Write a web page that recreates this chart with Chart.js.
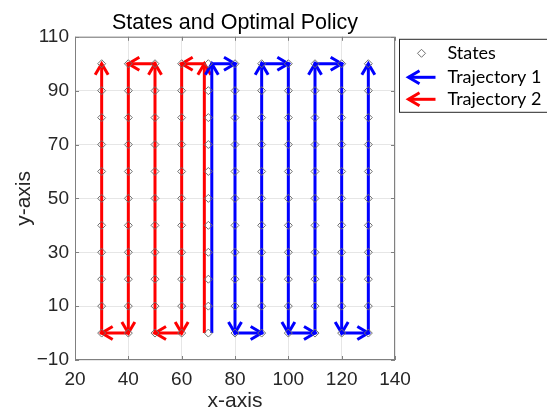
<!DOCTYPE html>
<html>
<head>
<meta charset="utf-8">
<title>States and Optimal Policy</title>
<script src="https://cdn.jsdelivr.net/npm/chart.js@4.4.1/dist/chart.umd.min.js"></script>
<style>
html, body { margin: 0; padding: 0; background: #fff; }
#wrap { width: 547px; height: 412px; }
</style>
</head>
<body>
<div id="wrap"><canvas id="policy" width="547" height="412"></canvas></div>
<script>
// state grid
var stateX = [30, 40, 50, 60, 70, 80, 90, 100, 110, 120, 130];
var stateY = [0, 10, 20, 30, 40, 50, 60, 70, 80, 90, 100];

// trajectory 1 (blue) - path vertices, arrow head at every vertex after the first
var traj1X = [71.3, 71.3, 80, 80, 90, 90, 100, 100, 110, 110, 120, 120, 130, 130];
var traj1Y = [0, 100, 100, 0, 0, 100, 100, 0, 0, 100, 100, 0, 0, 100];

// trajectory 2 (red)
var traj2X = [68.5, 68.5, 60, 60, 50, 50, 40, 40, 30, 30];
var traj2Y = [0, 100, 100, 0, 0, 100, 100, 0, 0, 100];

var xTicks = [20, 40, 60, 80, 100, 120, 140];
var yTicks = [-10, 10, 30, 50, 70, 90, 110];

var seriesNames = ['States', 'Trajectory 1', 'Trajectory 2'];
var seriesColors = ['#707070', '#0000ff', '#ff0000'];

var axisFont = "'Liberation Sans', Arial, sans-serif";

function toPoints(xs, ys) {
    var out = [];
    for (var i = 0; i < xs.length; i++) out.push({x: xs[i], y: ys[i]});
    return out;
}

var states = [];
stateX.forEach(function(x) {
    stateY.forEach(function(y) { states.push({x: x, y: y}); });
});

function drawHead(ctx, x, y, ang) {
    var len = 11, half = 6.5;
    var cx = x - Math.cos(ang) * len, cy = y - Math.sin(ang) * len;
    var px = -Math.sin(ang) * half, py = Math.cos(ang) * half;
    ctx.beginPath();
    ctx.moveTo(cx + px, cy + py);
    ctx.lineTo(x, y);
    ctx.lineTo(cx - px, cy - py);
    ctx.stroke();
}

// arrow heads on the trajectory lines
var arrowPlugin = {
    id: 'arrows',
    afterDatasetDraw: function(chart, args) {
        var ds = chart.data.datasets[args.index];
        if (!ds.arrowHeads) return;
        var pts = args.meta.data;
        var ctx = chart.ctx;
        ctx.save();
        ctx.strokeStyle = ds.borderColor;
        ctx.lineWidth = ds.borderWidth;
        ctx.lineCap = 'butt';
        ctx.lineJoin = 'miter';
        for (var i = 1; i < pts.length; i++) {
            var a = Math.atan2(pts[i].y - pts[i - 1].y, pts[i].x - pts[i - 1].x);
            drawHead(ctx, pts[i].x, pts[i].y, a);
        }
        ctx.restore();
    }
};

// box around the axes + inward ticks (matlab look)
var framePlugin = {
    id: 'frame',
    beforeDatasetsDraw: function(chart) {
        var ctx = chart.ctx, a = chart.chartArea;
        var sx = chart.scales.x, sy = chart.scales.y;
        ctx.save();
        ctx.strokeStyle = '#808080';
        ctx.lineWidth = 1;
        ctx.strokeRect(a.left + 0.5, a.top + 0.5, a.right - a.left - 1, a.bottom - a.top - 1);
        ctx.beginPath();
        xTicks.forEach(function(v) {
            var px = Math.round(sx.getPixelForValue(v)) + 0.5;
            ctx.moveTo(px, a.bottom); ctx.lineTo(px, a.bottom - 4);
            ctx.moveTo(px, a.top); ctx.lineTo(px, a.top + 4);
        });
        yTicks.forEach(function(v) {
            var py = Math.round(sy.getPixelForValue(v)) + 0.5;
            ctx.moveTo(a.left, py); ctx.lineTo(a.left + 4, py);
            ctx.moveTo(a.right, py); ctx.lineTo(a.right - 4, py);
        });
        ctx.stroke();
        ctx.restore();
    }
};

var legendPlugin = {
    id: 'boxLegend',
    afterDraw: function(chart) {
        var ctx = chart.ctx, a = chart.chartArea;
        var bx = a.right + 4.5, by = a.top + 2.5;
        var rows = [14, 38, 60];
        ctx.save();
        ctx.fillStyle = '#fff';
        ctx.fillRect(bx, by, 160, 73);
        ctx.strokeStyle = '#262626';
        ctx.lineWidth = 1;
        ctx.strokeRect(bx, by, 160, 73);

        // states marker
        var mx = bx + 22, my = by + rows[0];
        ctx.strokeStyle = seriesColors[0];
        ctx.beginPath();
        ctx.moveTo(mx, my - 4); ctx.lineTo(mx + 4, my); ctx.lineTo(mx, my + 4); ctx.lineTo(mx - 4, my);
        ctx.closePath();
        ctx.stroke();

        // trajectory arrows
        for (var i = 1; i < 3; i++) {
            var y = by + rows[i];
            ctx.strokeStyle = seriesColors[i];
            ctx.lineWidth = 3;
            ctx.beginPath();
            ctx.moveTo(bx + 36, y); ctx.lineTo(bx + 9, y);
            ctx.stroke();
            drawHead(ctx, bx + 9, y, Math.PI);
        }

        ctx.fillStyle = '#000';
        ctx.font = "18px Lato, 'Open Sans', sans-serif";
        ctx.textBaseline = 'middle';
        ctx.textAlign = 'left';
        for (var j = 0; j < 3; j++) {
            ctx.fillText(seriesNames[j], bx + 48, by + rows[j]);
        }
        ctx.restore();
    }
};

function fmt(v) {
    return String(v).replace('-', '\u2212');
}

var ctx = document.getElementById('policy');
var myChart = new Chart(ctx, {
    type: 'scatter',
    data: {
        datasets: [{
            label: seriesNames[0],
            data: states,
            pointStyle: 'rectRot',
            pointRadius: 4,
            pointBorderWidth: 1,
            pointBorderColor: seriesColors[0],
            pointBackgroundColor: 'rgba(0,0,0,0)',
            showLine: false
        }, {
            label: seriesNames[1],
            data: toPoints(traj1X, traj1Y),
            showLine: true,
            borderColor: seriesColors[1],
            borderWidth: 3,
            pointRadius: 0,
            arrowHeads: true
        }, {
            label: seriesNames[2],
            data: toPoints(traj2X, traj2Y),
            showLine: true,
            borderColor: seriesColors[2],
            borderWidth: 3,
            pointRadius: 0,
            arrowHeads: true
        }]
    },
    options: {
        responsive: false,
        animation: false,
        events: [],
        layout: { padding: { left: 0, right: 152, top: 0, bottom: 0 } },
        plugins: {
            legend: { display: false },
            tooltip: { enabled: false },
            title: {
                display: true,
                text: 'States and Optimal Policy',
                fullSize: false,
                color: '#000',
                font: { family: axisFont, size: 21.5, weight: 'normal', lineHeight: 1.2 },
                padding: { top: 10, bottom: 1 }
            }
        },
        scales: {
            x: {
                type: 'linear',
                min: xTicks[0],
                max: xTicks[xTicks.length - 1],
                afterBuildTicks: function(s) { s.ticks = xTicks.map(function(v) { return {value: v}; }); },
                afterFit: function(s) { s.height = 52; },
                grid: { color: '#e6e6e6', drawTicks: false },
                border: { display: false },
                ticks: {
                    color: '#262626',
                    padding: 8,
                    maxRotation: 0,
                    font: { family: axisFont, size: 19 },
                    callback: function(v) { return fmt(v); }
                },
                title: {
                    display: true,
                    text: 'x-axis',
                    color: '#262626',
                    font: { family: axisFont, size: 21, lineHeight: 1 },
                    padding: { top: 0, bottom: 0 }
                }
            },
            y: {
                type: 'linear',
                min: yTicks[0],
                max: yTicks[yTicks.length - 1],
                afterBuildTicks: function(s) { s.ticks = yTicks.map(function(v) { return {value: v}; }); },
                afterFit: function(s) { s.width = 75; },
                grid: { color: '#e6e6e6', drawTicks: false },
                border: { display: false },
                ticks: {
                    color: '#262626',
                    padding: 6,
                    font: { family: axisFont, size: 19 },
                    callback: function(v) { return fmt(v); }
                },
                title: {
                    display: true,
                    text: 'y-axis',
                    color: '#262626',
                    font: { family: axisFont, size: 21, lineHeight: 1 },
                    padding: { top: 14, bottom: 0 }
                }
            }
        }
    },
    plugins: [framePlugin, arrowPlugin, legendPlugin]
});
</script>
</body>
</html>
